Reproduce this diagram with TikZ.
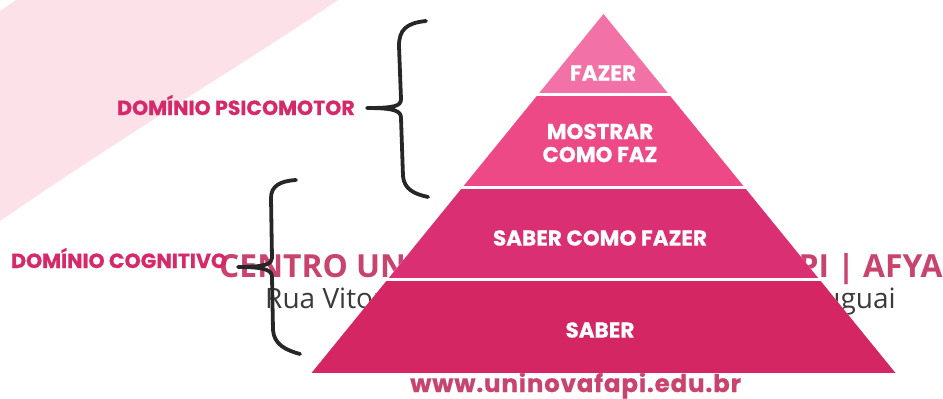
\documentclass[tikz,border=0pt]{standalone}
\usepackage{fontspec}
\setmainfont{Open Sans}
\newfontfamily\popfont[BoldFeatures={FakeBold=0.6}]{Poppins}
\newfontfamily\sitefont[BoldFeatures={FakeBold=0.6}, LetterSpace=3.4]{Poppins}
\usetikzlibrary{positioning}

\definecolor{PirBg}{HTML}{FDE1E9}
\definecolor{PirTop}{HTML}{F272A8}
\definecolor{PirTwo}{HTML}{EE4987}
\definecolor{PirThree}{HTML}{DB2F74}
\definecolor{PirBase}{HTML}{D32662}
\definecolor{PirLabel}{HTML}{D6296A}
\definecolor{PirMark}{HTML}{C9436F}
\definecolor{PirGray}{HTML}{3A3A3A}
\tikzset{
pirtext/.style={text=white, font=\popfont\bfseries\fontsize{21.5}{23}\selectfont,
  align=center, inner sep=0pt},
domlabel/.style={text=PirLabel, font=\popfont\bfseries\fontsize{20.5}{22}\selectfont,
  inner sep=0pt, anchor=base west},
markbold/.style={text=PirMark, font=\bfseries\fontsize{31.8}{34}\selectfont,
  inner sep=0pt, anchor=base west},
markplain/.style={text=PirGray, font=\fontsize{28}{30}\selectfont,
  inner sep=0pt, anchor=base west},
bracepath/.style={line width=3.8pt, draw=black!85, line cap=round, line join=round}
}

\begin{document}
\begin{tikzpicture}[x=1pt, y=-1pt]
\useasboundingbox (0,0) rectangle (943,399);

% pale band in the back
\fill[PirBg] (16,0) -- (338,0) .. controls (250,60) and (140,125) .. (0,221) -- (0,11) -- cycle;

% texts behind the pyramid
\node[markbold] (centro) at (219,277) {CENTRO UNIVERSITÁRIO UNINOVAFAPI | AFYA};
\node[markplain] (rua) at (265,308) {Rua Vitorino Orthiges Fernandes, 6123 - Uruguai};
\node[markbold, font=\sitefont\bfseries\fontsize{24.5}{27}\selectfont] (site) at (410,392) {www.uninovafapi.edu.br};

% pyramid
\coordinate (apex) at (603.5,14);
\coordinate (baseL) at (311.5,373);
\coordinate (baseR) at (895.5,373);
\begin{scope}
\clip (apex) -- (baseL) -- (baseR) -- cycle;
\fill[white] (300,10) rectangle (900,375);
\fill[PirTop] (300,10) rectangle (900,93);
\fill[PirTwo] (300,95.5) rectangle (900,186);
\fill[PirThree] (300,188.5) rectangle (900,277.5);
\fill[PirBase] (300,280.5) rectangle (900,373);
\end{scope}

\node[pirtext] (fazer) at (603,73) {FAZER};
\node[pirtext] (mostrar) at (600,143) {MOSTRAR\\COMO FAZ};
\node[pirtext] (saberfazer) at (600,238) {SABER COMO FAZER};
\node[pirtext] (saber) at (600,330) {SABER};

% braces
\coordinate (psiTip) at (367,108);
\coordinate (cogTip) at (238,267);
\draw[bracepath] (426,21) .. controls (406,23) and (399,30) .. (399,46)
  -- (401,99) .. controls (401,106) and (395,108) .. (psiTip)
  .. controls (395,108) and (401,111) .. (401,118)
  -- (403,176) .. controls (404,189) and (414,194) .. (428,197);
\draw[bracepath] (296,180) .. controls (280,181) and (271,186) .. (271,198)
  -- (272,258) .. controls (272,264) and (265,267) .. (cogTip)
  .. controls (265,267) and (272,270) .. (272,277)
  -- (273,330) .. controls (274,344) and (285,350) .. (300,354);

\node[domlabel] (psico) at (117,115) {DOMÍNIO PSICOMOTOR};
\node[domlabel] (cogni) at (11,268) {DOMÍNIO COGNITIVO};
\end{tikzpicture}
\end{document}
